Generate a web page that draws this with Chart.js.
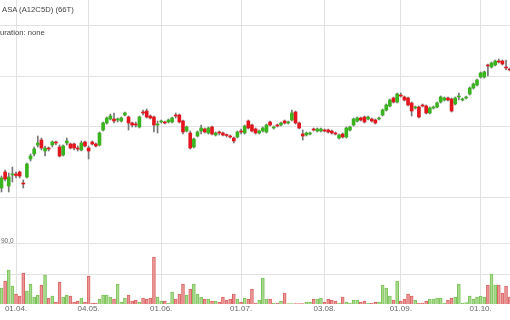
<!DOCTYPE html>
<html>
<head>
<meta charset="utf-8">
<script src="https://cdn.jsdelivr.net/npm/chart.js@4.4.0/dist/chart.umd.min.js"></script>
<style>
  html, body { margin: 0; padding: 0; background: #fff; overflow: hidden; }
  #wrap { position: relative; width: 510px; height: 320px; overflow: hidden; }
  #chart { position: absolute; left: 0; top: 0; }
  .label { position: absolute; white-space: nowrap; font-family: "Liberation Sans", Arial, sans-serif; color: #444; }
  #title { left: 2px; top: 5px; font-size: 7.7px; line-height: 10px; }
  #sub { left: -5.6px; top: 28px; font-size: 7.7px; line-height: 10px; }
</style>
</head>
<body>
<div id="wrap">
  <canvas id="chart" width="510" height="320"></canvas>
  <div class="label" id="title">ASA (A12C5D) (66T)</div>
  <div class="label" id="sub">Duration: none</div>
</div>
<script>
// Handelstage relativ zum 01.04. (erste Kerze = 26.03.)
const firstIndex = -4;
const tickIndex = [0, 20, 40, 62, 85, 106, 128];
const tickLabels = ['01.04.', '04.05.', '01.06.', '01.07.', '03.08.', '01.09.', '01.10.'];
const priceGrid = [17.9, 25, 30, 35];
const volumeGrid = [45, 90];

const open = [
  18.8, 20.4, 19.0, 20.1, 20.2, 20.4, 19.3, 19.9, 21.7, 22.2,
  23.1, 23.6, 22.5, 22.8, 23.1, 23.4, 22.9, 22.1, 23.3, 23.2,
  23.2, 22.8, 22.6, 23.4, 22.8, 23.4, 23.2, 23.1, 24.6, 25.3,
  25.7, 25.7, 25.6, 25.5, 26.1, 25.9, 25.3, 25.2, 24.9, 26.4,
  26.5, 26.0, 25.9, 25.1, 25.4, 25.4, 25.4, 25.4, 26.1, 26.1,
  25.5, 24.5, 24.3, 22.9, 24.0, 24.5, 24.7, 24.3, 24.9, 24.1,
  24.4, 24.3, 24.1, 24.0, 23.8, 23.9, 24.5, 24.3, 25.5, 25.1,
  24.7, 24.3, 24.5, 24.4, 25.4, 24.8, 25.1, 25.1, 25.5, 25.3,
  25.6, 26.4, 25.3, 24.2, 24.1, 24.2, 24.7, 24.5, 24.5, 24.6,
  24.6, 24.5, 24.3, 23.8, 24.2, 23.9, 24.6, 25.1, 25.5, 25.8,
  25.9, 25.7, 25.7, 25.6, 25.7, 26.1, 26.6, 27.0, 27.8, 27.4,
  28.1, 27.9, 27.8, 27.3, 26.8, 26.9, 27.1, 27.0, 26.3, 26.8,
  26.9, 27.4, 27.6, 27.8, 27.7, 27.2, 27.9, 27.6, 27.8, 28.2,
  28.8, 29.1, 29.9, 29.9, 31.1, 30.9, 31.1, 31.5, 31.5, 30.9, 30.7
];
const high = [
  20.0, 20.6, 20.3, 20.9, 20.4, 20.5, 19.6, 21.3, 22.2, 22.9,
  24.0, 23.8, 23.0, 22.9, 23.5, 23.5, 23.1, 23.1, 23.8, 23.3,
  23.3, 23.0, 23.5, 23.5, 23.0, 23.5, 23.3, 24.4, 25.4, 25.9,
  26.2, 26.3, 25.8, 25.9, 26.4, 26.0, 25.4, 25.4, 26.0, 26.6,
  26.7, 26.1, 26.0, 25.5, 25.6, 25.5, 25.7, 25.9, 26.3, 26.2,
  25.6, 25.0, 24.5, 23.8, 24.5, 25.1, 24.8, 24.9, 25.0, 24.4,
  24.5, 24.4, 24.2, 24.1, 23.9, 24.5, 24.7, 25.1, 25.6, 25.2,
  24.8, 24.6, 24.9, 25.2, 25.5, 25.0, 25.2, 25.4, 25.6, 25.5,
  26.6, 26.5, 25.4, 24.6, 24.4, 24.4, 24.8, 24.8, 24.8, 24.7,
  24.7, 24.6, 24.4, 24.2, 24.3, 24.9, 25.0, 25.8, 25.9, 25.9,
  26.0, 26.0, 25.8, 25.7, 25.9, 26.7, 27.2, 27.7, 27.9, 28.3,
  28.3, 28.0, 27.9, 27.4, 27.0, 27.0, 27.2, 27.1, 26.9, 27.0,
  27.4, 28.0, 27.9, 27.9, 27.8, 27.9, 28.3, 27.8, 28.0, 28.9,
  29.3, 29.7, 30.4, 30.5, 31.2, 31.4, 31.6, 31.7, 31.6, 31.6, 30.8
];
const low = [
  18.4, 19.5, 18.4, 19.4, 19.8, 19.8, 18.8, 19.8, 21.5, 22.0,
  22.9, 22.6, 22.0, 22.5, 22.9, 23.1, 21.9, 22.0, 23.1, 22.7,
  22.6, 22.5, 22.5, 22.9, 21.7, 23.1, 22.9, 23.0, 24.5, 25.2,
  25.6, 25.3, 25.4, 25.4, 26.0, 24.6, 24.9, 24.9, 24.8, 26.1,
  25.8, 25.7, 24.4, 24.3, 25.3, 25.2, 25.3, 25.3, 25.8, 25.3,
  24.2, 24.4, 22.7, 22.8, 23.9, 24.2, 24.3, 24.2, 24.1, 24.0,
  24.1, 24.0, 23.9, 23.8, 23.3, 23.8, 24.2, 24.2, 24.7, 24.4,
  24.2, 24.2, 24.4, 24.3, 25.0, 24.7, 24.9, 25.0, 25.2, 25.2,
  25.5, 25.2, 24.7, 23.6, 24.0, 24.1, 24.5, 24.4, 24.4, 24.4,
  24.3, 24.2, 24.1, 23.7, 23.8, 23.8, 24.5, 25.0, 25.4, 25.5,
  25.3, 25.6, 25.4, 25.2, 25.6, 26.0, 26.5, 26.9, 27.3, 27.3,
  27.9, 27.5, 27.0, 26.0, 26.7, 25.8, 26.9, 26.2, 26.2, 26.7,
  26.8, 27.3, 27.5, 27.5, 26.4, 27.1, 27.6, 27.5, 27.7, 28.1,
  28.7, 29.0, 29.8, 29.8, 30.0, 30.8, 31.0, 31.3, 31.1, 30.6, 30.5
];
const close = [
  19.8, 19.7, 19.9, 20.2, 20.05, 20.0, 19.2, 21.2, 22.0, 22.7,
  23.3, 22.8, 22.8, 22.7, 23.4, 23.3, 22.0, 23.0, 23.5, 22.8,
  22.8, 22.7, 23.3, 23.0, 22.5, 23.2, 23.0, 24.3, 25.3, 25.8,
  26.0, 25.5, 25.7, 25.8, 26.3, 25.3, 25.1, 25.1, 25.9, 26.3,
  25.9, 25.8, 25.1, 25.2, 25.5, 25.3, 25.6, 25.8, 26.0, 25.4,
  24.4, 24.9, 22.8, 23.7, 24.4, 24.8, 24.4, 24.8, 24.2, 24.3,
  24.3, 24.1, 24.05, 23.9, 23.5, 24.4, 24.4, 25.0, 24.8, 24.5,
  24.3, 24.5, 24.8, 25.1, 25.1, 24.9, 25.0, 25.3, 25.3, 25.4,
  26.3, 25.3, 24.8, 24.0, 24.3, 24.3, 24.6, 24.7, 24.7, 24.5,
  24.4, 24.3, 24.2, 24.1, 23.9, 24.8, 24.9, 25.7, 25.8, 25.6,
  25.4, 25.9, 25.5, 25.3, 25.8, 26.6, 27.1, 27.6, 27.4, 28.2,
  28.0, 27.6, 27.1, 26.5, 26.9, 25.9, 27.0, 26.3, 26.8, 26.9,
  27.3, 27.9, 27.8, 27.6, 26.5, 27.8, 28.0, 27.7, 27.9, 28.8,
  29.2, 29.6, 30.3, 30.4, 31.0, 31.3, 31.5, 31.4, 31.2, 30.8, 30.6
];
const volume = [
  24, 34.5, 51, 27, 15, 12, 46.5, 19.5, 30, 10.5,
  13.5, 28.5, 43.5, 9, 12, 3, 33, 10.5, 13.5, 12,
  3, 4.5, 9, 3, 42, 1.5, 1.5, 7.5, 13.5, 13.5,
  10.5, 7.5, 30, 3, 9, 13.5, 4.5, 6, 3, 9,
  7.5, 9, 70.5, 10.5, 4.5, 4.5, 1.5, 18, 7.5, 15,
  30, 13.5, 22.5, 30, 15, 10.5, 7.5, 7.5, 4.5, 4.5,
  3, 10.5, 6, 7.5, 15, 7.5, 3, 9, 7.5, 22.5,
  1.5, 6, 39, 7.5, 7.5, 1.5, 1.5, 4.5, 16.5, 0.8,
  0.6, 0.6, 0.6, 0.8, 3, 3, 7.5, 7.5, 9, 3,
  7.5, 6, 4.5, 1.5, 10.5, 3, 1.5, 6, 6, 3,
  4.5, 1.5, 1.5, 3, 3, 28.5, 24, 12, 6, 34.5,
  4.5, 7.5, 15, 12, 6, 1.5, 1.5, 4.5, 7.5, 7.5,
  9, 9, 1.5, 6, 9, 10.5, 30, 1.5, 2, 12,
  7.5, 10.5, 12, 10.5, 28.5, 45, 28.5, 28.5, 16.5, 27, 10.5
];

const upColor = '#3ab41e';
const downColor = '#e3161d';
const gridColor = '#e2e2e2';
const fontFamily = '"Liberation Sans", Arial, sans-serif';

const up = open.map((o, k) => close[k] >= o);
const bodies = open.map((o, k) => ({ x: firstIndex + k, y: [o, close[k]] }));
const wicks = open.map((o, k) => ({ x: firstIndex + k, y: [low[k], high[k]] }));
const vols = volume.map((v, k) => ({ x: firstIndex + k, y: v }));

// Beschriftung der Volumen-Skala, sitzt knapp über der Linie
const volLabel = {
  id: 'volLabel',
  afterDraw(chart) {
    const { ctx, scales } = chart;
    const y = scales.yv.getPixelForValue(90);
    ctx.save();
    ctx.font = '6.5px ' + fontFamily;
    ctx.fillStyle = '#666';
    ctx.textBaseline = 'alphabetic';
    ctx.fillText('90,0', 1, y - 1.5);
    ctx.restore();
  }
};

new Chart(document.getElementById('chart'), {
  type: 'bar',
  data: {
    datasets: [
      {
        label: 'Körper', data: bodies, yAxisID: 'y', order: 0,
        backgroundColor: up.map(u => u ? upColor : downColor),
        borderWidth: 0, barThickness: 3, maxBarThickness: 3, minBarLength: 1, grouped: false
      },
      {
        label: 'Docht', data: wicks, yAxisID: 'y', order: 1,
        backgroundColor: '#777', borderWidth: 0,
        barThickness: 1, maxBarThickness: 1, grouped: false
      },
      {
        label: 'Volumen', data: vols, yAxisID: 'yv', order: 2,
        backgroundColor: up.map(u => u ? '#a8d98c' : '#ea9595'),
        borderColor: up.map(u => u ? '#7cc35a' : '#db6565'),
        borderWidth: 1, barThickness: 3, maxBarThickness: 3, grouped: false
      }
    ]
  },
  options: {
    responsive: false,
    animation: false,
    devicePixelRatio: 1,
    layout: { padding: { left: 0, right: 0, top: 0, bottom: 6.4 } },
    plugins: { legend: { display: false }, tooltip: { enabled: false } },
    scales: {
      x: {
        type: 'linear', min: -4.41, max: 136.09, offset: false,
        grid: { color: gridColor, lineWidth: 1, drawTicks: false, offset: false },
        border: { display: false },
        afterBuildTicks: axis => { axis.ticks = tickIndex.map(v => ({ value: v })); },
        ticks: {
          autoSkip: false, maxRotation: 0, padding: 0, color: '#666',
          font: { family: fontFamily, size: 8 },
          callback: (value, index) => tickLabels[index]
        }
      },
      y: {
        type: 'linear', position: 'left', min: 7.2, max: 37.6, bounds: 'data',
        grid: { color: gridColor, lineWidth: 1, drawTicks: false },
        border: { display: false },
        afterBuildTicks: axis => { axis.ticks = priceGrid.map(v => ({ value: v })); },
        ticks: { display: false }
      },
      yv: {
        type: 'linear', position: 'left', min: 0, max: 456, bounds: 'data',
        grid: { color: gridColor, lineWidth: 1, drawTicks: false },
        border: { display: false },
        afterBuildTicks: axis => { axis.ticks = volumeGrid.map(v => ({ value: v })); },
        ticks: { display: false }
      }
    }
  },
  plugins: [volLabel]
});
</script>
</body>
</html>
